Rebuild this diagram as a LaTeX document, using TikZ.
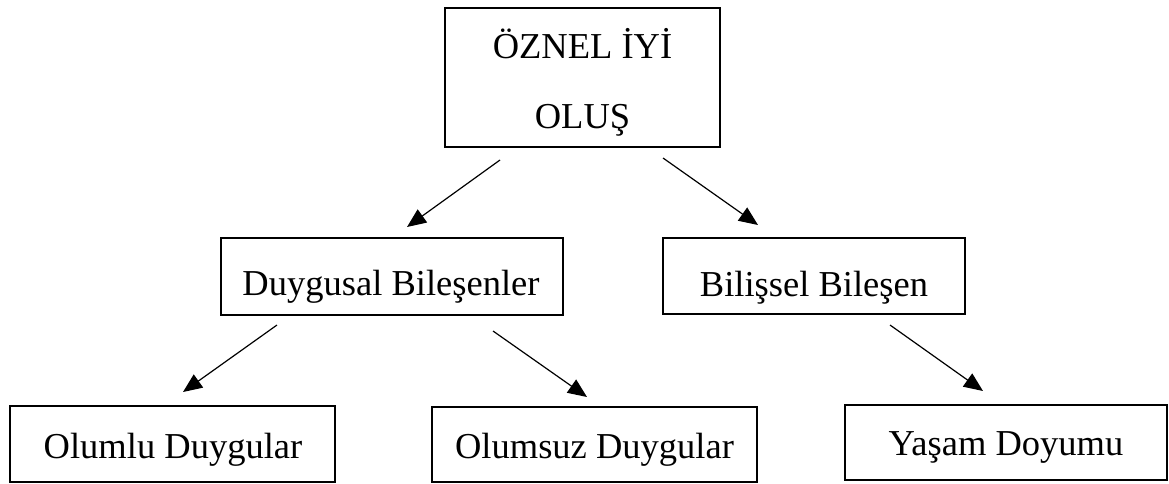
\documentclass[tikz,border=0pt]{standalone}
\usepackage{fontspec}
\setmainfont{Liberation Serif}
\usetikzlibrary{arrows.meta}
\begin{document}
\begin{tikzpicture}[x=1pt,y=-1pt,
  box/.style={draw=black, line width=2.4pt, inner sep=0pt, fill=none},
  txt/.style={anchor=base, inner sep=0pt, font=\fontsize{36.5}{40}\selectfont},
  arr/.style={draw=black, line width=1.2pt, -{Triangle[length=19pt,width=16pt]}}]
\useasboundingbox (0,0) rectangle (1169,483);
% boxes
\node[box, minimum width=275pt, minimum height=139pt] (top) at (582.5,77.5) {};
\node[box, minimum width=342pt, minimum height=77pt] (duy) at (392,276.5) {};
\node[box, minimum width=302pt, minimum height=76pt] (bil) at (814,276) {};
\node[box, minimum width=325pt, minimum height=76pt] (olm) at (172.5,444) {};
\node[box, minimum width=325pt, minimum height=75pt] (ols) at (594.5,444.5) {};
\node[box, minimum width=322pt, minimum height=75pt] (yas) at (1006,442.5) {};
% texts
\node[txt] (t1) at (582.5,58) {ÖZNEL İYİ};
\node[txt] (t2) at (582.5,128) {OLUŞ};
\node[txt] (t3) at (391,295) {Duygusal Bileşenler};
\node[txt] (t4) at (814,296) {Bilişsel Bileşen};
\node[txt] (t5) at (173,458) {Olumlu Duygular};
\node[txt] (t6) at (594.5,458) {Olumsuz Duygular};
\node[txt] (t7) at (1006,455) {Yaşam Doyumu};
% connector end points
\coordinate (a1s) at (500,160);  \coordinate (a1e) at (407,227);
\coordinate (a2s) at (663,158);  \coordinate (a2e) at (758,225);
\coordinate (a3s) at (277,325);  \coordinate (a3e) at (183,392);
\coordinate (a4s) at (493,331);  \coordinate (a4e) at (587,397);
\coordinate (a5s) at (890,325);  \coordinate (a5e) at (983,391);
\draw[arr] (a1s) -- (a1e);
\draw[arr] (a2s) -- (a2e);
\draw[arr] (a3s) -- (a3e);
\draw[arr] (a4s) -- (a4e);
\draw[arr] (a5s) -- (a5e);
\end{tikzpicture}
\end{document}
